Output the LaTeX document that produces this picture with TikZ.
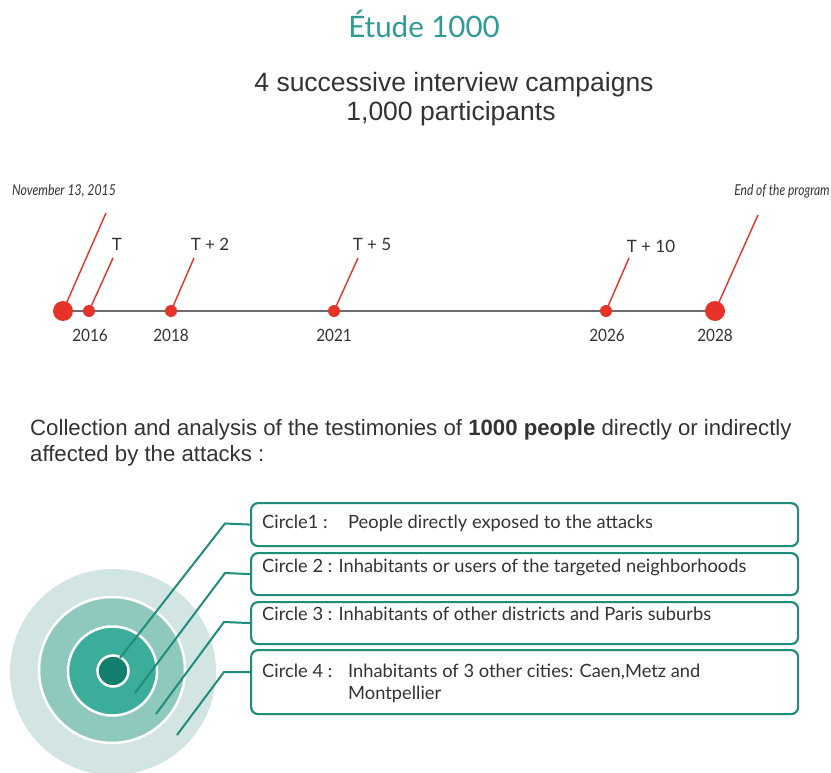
\documentclass[tikz,border=0pt]{standalone}
\usepackage{fontspec}
\setmainfont{Lato}
\newfontfamily\arialfont{Liberation Sans}
\usetikzlibrary{backgrounds}
\definecolor{titleteal}{HTML}{2E9C94}
\definecolor{boxteal}{HTML}{1F8C7C}
\definecolor{ring4}{HTML}{D3E5E2}
\definecolor{ring3}{HTML}{8FC9BE}
\definecolor{ring2}{HTML}{3BAE9B}
\definecolor{ring1}{HTML}{127E6E}
\definecolor{dotred}{HTML}{E63228}
\definecolor{axisgray}{HTML}{6D6D6D}
\definecolor{txt}{HTML}{333333}
\tikzset{
  titletxt/.style={inner sep=0, anchor=base, text=titleteal, font=\fontsize{29.5}{32}\selectfont},
  subtxt/.style={inner sep=0, anchor=base, text=txt, font=\arialfont\fontsize{26.5}{30}\selectfont},
  bodytxt/.style={inner sep=0, anchor=base west, text=txt, font=\arialfont\fontsize{22.2}{26}\selectfont},
  smalldot/.style={circle, fill=dotred, inner sep=0, minimum size=12},
  bigdot/.style={circle, fill=dotred, inner sep=0, minimum size=20},
  redline/.style={draw=dotred, line width=1.4},
  axisline/.style={draw=axisgray, line width=1.8},
  ticktxt/.style={inner sep=0, anchor=base, text=txt, font=\fontsize{17}{20}\selectfont},
  notetxt/.style={inner sep=0, anchor=base, text=txt, font=\itshape\fontsize{15}{17}\selectfont},
  ringnode/.style={circle, inner sep=0},
  conn/.style={draw=boxteal, line width=2},
  infobox/.style={rectangle, rounded corners=7, draw=boxteal, line width=2.2, fill=white, minimum width=547, anchor=north west, inner sep=0},
  boxtxt/.style={inner sep=0, anchor=base west, text=txt, font=\fontsize{18.3}{21}\selectfont},
}
\begin{document}
\begin{tikzpicture}[x=1pt,y=-1pt]
\useasboundingbox (0,0) rectangle (831,773);

% titles
\node[titletxt] (title) at (424,38) {Étude 1000};
\node[subtxt] (sub1) at (454,92) {4 successive interview campaigns};
\node[subtxt] (sub2) at (451,121) {1,000 participants};

% timeline
\node[bigdot] (d0) at (63,311) {};
\node[smalldot] (d1) at (89,311) {};
\node[smalldot] (d2) at (171,311) {};
\node[smalldot] (d3) at (334,311) {};
\node[smalldot] (d4) at (606,311) {};
\node[bigdot] (d5) at (715,311) {};
\begin{pgfonlayer}{background}
\fill[white] (0,0) rectangle (831,773);
\draw[axisline] (d0.center) -- (d5.center);
\end{pgfonlayer}

\coordinate (e0) at (106,213);
\coordinate (e1) at (113,258);
\coordinate (e2) at (194,258);
\coordinate (e3) at (358,258);
\coordinate (e4) at (629,258);
\coordinate (e5) at (758,215);
\draw[redline] (d0.center) -- (e0);
\draw[redline] (d1.center) -- (e1);
\draw[redline] (d2.center) -- (e2);
\draw[redline] (d3.center) -- (e3);
\draw[redline] (d4.center) -- (e4);
\draw[redline] (d5.center) -- (e5);

\node[notetxt] (nov) at (64,196) {\scalebox{0.82}[1]{November 13, 2015}};
\node[notetxt] (end) at (782,196) {\scalebox{0.8}[1]{End of the program}};
\node[ticktxt] (l1) at (117,251) {T};
\node[ticktxt] (l2) at (210,251) {T + 2};
\node[ticktxt] (l3) at (372,251) {T + 5};
\node[ticktxt] (l4) at (651,252) {T + 10};

\node[ticktxt] (y1) at (90,341) {\scalebox{0.9}[1]{2016}};
\node[ticktxt] (y2) at (171,341) {\scalebox{0.9}[1]{2018}};
\node[ticktxt] (y3) at (334,341) {\scalebox{0.9}[1]{2021}};
\node[ticktxt] (y4) at (607,341) {\scalebox{0.9}[1]{2026}};
\node[ticktxt] (y5) at (715,341) {\scalebox{0.9}[1]{2028}};

% collection text
\node[bodytxt] (col1) at (30,435) {Collection and analysis of the testimonies of \textbf{1000 people} directly or indirectly};
\node[bodytxt] (col2) at (30,461) {affected by the attacks :};

% concentric circles
\node[ringnode, fill=ring4, minimum size=206] (c4) at (113,672) {};
\node[ringnode, fill=ring3, draw=white, line width=2.5, minimum size=146] (c3) at (112,670) {};
\node[ringnode, fill=ring2, draw=white, line width=2.5, minimum size=89] (c2) at (112.5,671) {};
\node[ringnode, fill=ring1, draw=white, line width=2.5, minimum size=31] (c1) at (113,671) {};

% boxes
\node[infobox, minimum height=43] (b1) at (250,502) {};
\node[infobox, minimum height=42] (b2) at (250,552) {};
\node[infobox, minimum height=42] (b3) at (250,601) {};
\node[infobox, minimum height=64] (b4) at (250,649) {};

% connectors
\coordinate (s1) at (120,658);
\coordinate (s2) at (135,693);
\coordinate (s3) at (156,714);
\coordinate (s4) at (177,735);
\coordinate (k1) at (225,523.5);
\coordinate (k2) at (225,573);
\coordinate (k3) at (224,622);
\coordinate (k4) at (224,672);
\draw[conn] (s1) -- (k1) -- (b1.west);
\draw[conn] (s2) -- (k2) -- (b2.west);
\draw[conn] (s3) -- (k3) -- (b3.west);
\draw[conn] (s4) -- (k4) -- (b4.west |- k4);

% box texts
\node[boxtxt] (t1a) at (262,528) {Circle1 :};
\node[boxtxt] (t1b) at (348,528) {People directly exposed to the attacks};
\node[boxtxt] (t2) at (262,572) {Circle 2 : Inhabitants or users of the targeted neighborhoods};
\node[boxtxt] (t3) at (262,620) {Circle 3 : Inhabitants of other districts and Paris suburbs};
\node[boxtxt] (t4a) at (262,677) {Circle 4 :};
\node[boxtxt] (t4b) at (348,677) {Inhabitants of 3 other cities: Caen,Metz and};
\node[boxtxt] (t4c) at (348,699) {Montpellier};
\end{tikzpicture}
\end{document}
